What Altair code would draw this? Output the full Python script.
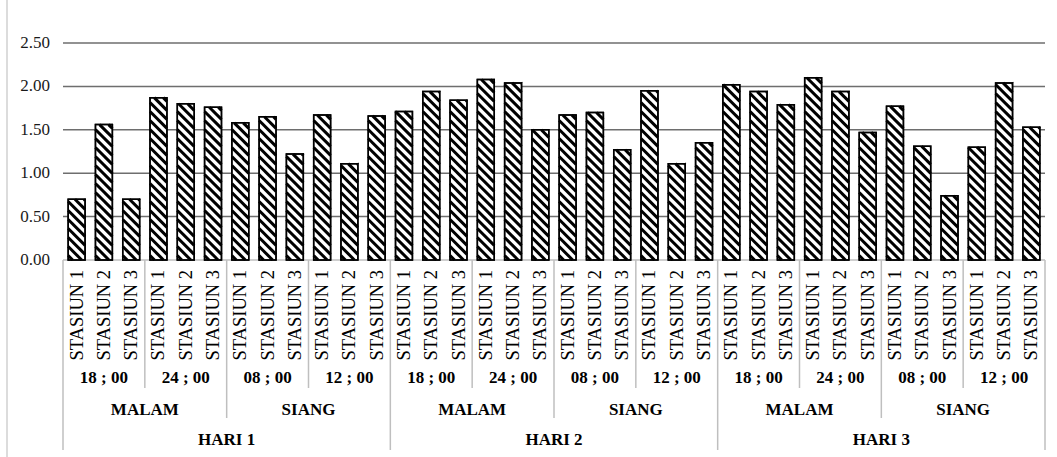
import altair as alt
import pandas as pd

# ---- data ----
hari = ["HARI 1", "HARI 2", "HARI 3"]
periode = ["MALAM", "SIANG"]
jam = {"MALAM": ["18 ; 00", "24 ; 00"], "SIANG": ["08 ; 00", "12 ; 00"]}
stasiun = ["STASIUN 1", "STASIUN 2", "STASIUN 3"]

nilai_hari1 = [0.70, 1.56, 0.70, 1.87, 1.80, 1.76, 1.58, 1.65, 1.22, 1.67, 1.11, 1.66]
nilai_hari2 = [1.71, 1.94, 1.84, 2.08, 2.04, 1.50, 1.67, 1.70, 1.27, 1.95, 1.11, 1.35]
nilai_hari3 = [2.02, 1.94, 1.79, 2.10, 1.94, 1.47, 1.77, 1.31, 0.74, 1.30, 2.04, 1.53]
nilai = [nilai_hari1, nilai_hari2, nilai_hari3]

y_ticks = [0.0, 0.5, 1.0, 1.5, 2.0, 2.5]

# ---- layout constants ----
PLOT_W, PLOT_H = 982, 217
Y_MAX = 2.5
FONT = "Liberation Serif, Times New Roman, serif"
HALF_BAR = 0.31          # half bar width, in category units
STRIPE_GAP_PX = 9        # vertical distance between hatch stripes
STRIPE_W = 3

# ---- tables ----
bars, jam_rows, periode_rows, hari_rows = [], [], [], []
idx = 0
for h, vals in zip(hari, nilai):
    h_start = idx
    k = 0
    for p in periode:
        p_start = idx
        for j in jam[p]:
            j_start = idx
            for s in stasiun:
                bars.append({"i": idx, "hari": h, "periode": p, "jam": j,
                             "stasiun": s, "nilai": vals[k],
                             "x0": idx - HALF_BAR, "x1": idx + HALF_BAR})
                idx += 1
                k += 1
            jam_rows.append({"label": j, "pos": (j_start + idx - 1) / 2})
        periode_rows.append({"label": p, "pos": (p_start + idx - 1) / 2})
    hari_rows.append({"label": h, "pos": (h_start + idx - 1) / 2})
n = idx
bars_df = pd.DataFrame(bars)

# separators between groups of the multi-level category axis
seps = []
for b in range(0, n + 1, 3):
    if b % 12 == 0:
        level = "hari"
    elif b % 6 == 0:
        level = "periode"
    else:
        level = "jam"
    seps.append({"pos": b - 0.5, "level": level})
seps_df = pd.DataFrame(seps)

# diagonal hatch (\\\) inside each bar, built in data units
px_x = PLOT_W / n
px_y = PLOT_H / Y_MAX
drop = (2 * HALF_BAR * px_x) / px_y      # 45 degree slope across the bar
gap = STRIPE_GAP_PX / px_y
stripes = []
for r in bars:
    v, xl, xr = r["nilai"], r["x0"], r["x1"]
    c = gap / 2
    while c < v + drop:
        xa, ya, xb, yb = xl, c, xr, c - drop
        if ya > v:
            t = (ya - v) / drop
            xa, ya = xl + t * (xr - xl), v
        if yb < 0:
            t = c / drop
            xb, yb = xl + t * (xr - xl), 0.0
        if xb > xa:
            stripes.append({"xa": xa, "xb": xb, "ya": ya, "yb": yb})
        c += gap
stripes_df = pd.DataFrame(stripes)

# ---- scales ----
xs = alt.Scale(domain=[-0.5, n - 0.5], nice=False, zero=False)
ys = alt.Scale(domain=[0, Y_MAX], nice=False)

# value gridlines (the zero line doubles as the light category axis line)
grid_df = pd.DataFrame({"v": y_ticks})
grid = alt.Chart(grid_df).mark_rule(strokeWidth=1.5).encode(
    x=alt.value(0),
    x2=alt.value(PLOT_W),
    y=alt.Y("v:Q", scale=ys, axis=None),
    color=alt.condition(alt.datum.v == 0, alt.value("#bfbfbf"), alt.value("#6e6e6e")),
)

grid_labels = alt.Chart(grid_df).mark_text(
    font=FONT, fontSize=17, align="right", baseline="middle", color="#1a1a1a"
).encode(
    x=alt.value(-13),
    y=alt.Y("v:Q", scale=ys, axis=None),
    text=alt.Text("v:Q", format=".2f"),
)

base_bars = alt.Chart(bars_df)

bar_fill = base_bars.mark_rect(fill="white", stroke="black", strokeWidth=1.5).encode(
    x=alt.X("x0:Q", scale=xs, axis=None),
    x2="x1:Q",
    y=alt.Y("nilai:Q", scale=ys, axis=None),
    y2=alt.datum(0),
)

hatch = alt.Chart(stripes_df).mark_rule(color="black", strokeWidth=STRIPE_W, strokeCap="butt").encode(
    x=alt.X("xa:Q", scale=xs, axis=None),
    x2="xb:Q",
    y=alt.Y("ya:Q", scale=ys, axis=None),
    y2="yb:Q",
)

bar_outline = base_bars.mark_rect(fill="white", fillOpacity=0, stroke="black", strokeWidth=1.5).encode(
    x=alt.X("x0:Q", scale=xs, axis=None),
    x2="x1:Q",
    y=alt.Y("nilai:Q", scale=ys, axis=None),
    y2=alt.datum(0),
)

# multi-level category labels below the plot
lbl_stasiun = base_bars.mark_text(font=FONT, fontSize=18.5, angle=270, align="right",
                                  baseline="middle", color="black").encode(
    x=alt.X("i:Q", scale=xs, axis=None),
    y=alt.value(PLOT_H + 10),
    text="stasiun:N",
)

lbl_jam = alt.Chart(pd.DataFrame(jam_rows)).mark_text(
    font=FONT, fontSize=17, fontWeight="bold", baseline="middle", color="black").encode(
    x=alt.X("pos:Q", scale=xs, axis=None), y=alt.value(PLOT_H + 118), text="label:N")

lbl_periode = alt.Chart(pd.DataFrame(periode_rows)).mark_text(
    font=FONT, fontSize=17, fontWeight="bold", baseline="middle", color="black").encode(
    x=alt.X("pos:Q", scale=xs, axis=None), y=alt.value(PLOT_H + 150), text="label:N")

lbl_hari = alt.Chart(pd.DataFrame(hari_rows)).mark_text(
    font=FONT, fontSize=17, fontWeight="bold", baseline="middle", color="black").encode(
    x=alt.X("pos:Q", scale=xs, axis=None), y=alt.value(PLOT_H + 180), text="label:N")

sep_base = alt.Chart(seps_df).mark_rule(color="#bfbfbf", strokeWidth=1.5)
sep_layers = []
for level, depth in [("jam", 128), ("periode", 158), ("hari", 190)]:
    sep_layers.append(
        sep_base.transform_filter(alt.datum.level == level).encode(
            x=alt.X("pos:Q", scale=xs, axis=None),
            y=alt.value(PLOT_H),
            y2=alt.value(PLOT_H + depth),
        )
    )

# thin frame line on the left of the chart area
frame = alt.Chart(alt.Data(values=[{"f": 0}])).mark_rule(color="#d0d0d0", strokeWidth=1.5).encode(
    x=alt.value(-56), y=alt.value(-43), y2=alt.value(PLOT_H + 197)
)

chart = alt.layer(
    frame, grid, grid_labels, bar_fill, hatch, bar_outline, *sep_layers,
    lbl_stasiun, lbl_jam, lbl_periode, lbl_hari
).properties(
    width=PLOT_W, height=PLOT_H,
    padding={"left": 63, "top": 43, "right": 12, "bottom": 197},
    autosize=alt.AutoSizeParams(type="none"),
    background="white",
).configure_view(stroke=None)

chart.save("out.html", embed_options={"renderer": "svg", "actions": False})
